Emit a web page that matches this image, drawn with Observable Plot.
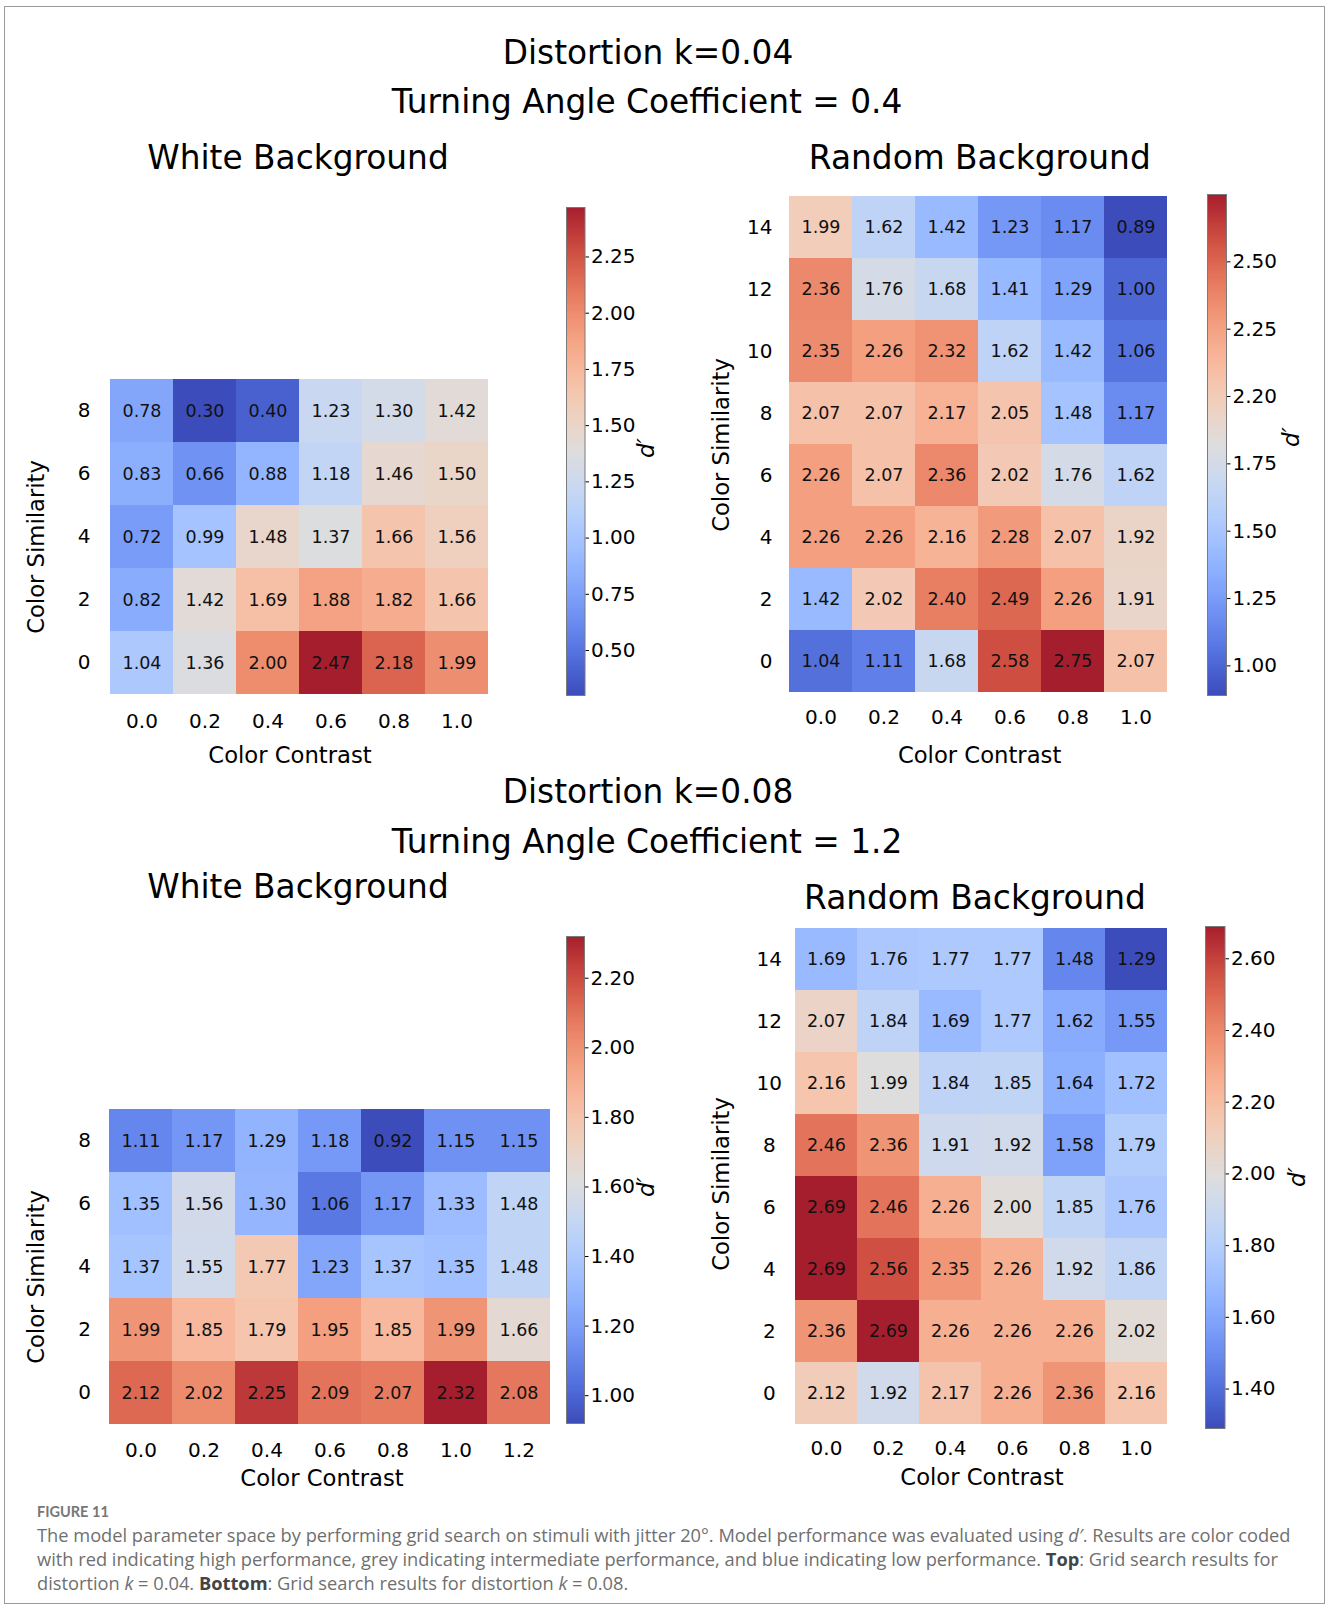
<!DOCTYPE html>
<html><head><meta charset="utf-8">
<script src="https://cdn.jsdelivr.net/npm/d3@7"></script>
<script src="https://cdn.jsdelivr.net/npm/@observablehq/plot@0.6"></script>
<style>
html,body{margin:0;padding:0;background:#fff;}
#fig{position:relative;width:1328px;height:1609px;overflow:hidden;font-family:"DejaVu Sans",sans-serif;color:#000;background:#fff;}
.t{position:absolute;white-space:nowrap;transform:translate(-50%,-50%);line-height:normal;}
.title{font-size:32.8px;}
.lab{font-size:22.7px;}
.rot{transform:translate(-50%,-50%) rotate(-90deg);}
.dp{font-size:23px;font-style:italic;}
#border{position:absolute;left:4px;top:6px;width:1321px;height:1598px;border:1.5px solid #9a9a9a;box-sizing:border-box;}
.cap{position:absolute;left:37px;font-family:"Open Sans",Lato,sans-serif;color:#6f6f6f;white-space:nowrap;font-size:18.25px;line-height:24px;}
.caphead{position:absolute;left:37px;top:1503px;font-family:Lato,sans-serif;font-weight:700;color:#777;font-size:14.5px;line-height:18px;}
.cap b{color:#444;font-weight:700;}
</style></head>
<body><div id="fig"><div id="border"></div></div>
<script>
// ---------------- data ----------------
const contrast6 = ["0.0","0.2","0.4","0.6","0.8","1.0"];
const contrast7 = ["0.0","0.2","0.4","0.6","0.8","1.0","1.2"];
const simWhite = [8,6,4,2,0];
const simRandom = [14,12,10,8,6,4,2,0];

// rows from top (highest similarity) to bottom
const whiteK004 = [
  [0.78,0.30,0.40,1.23,1.30,1.42],
  [0.83,0.66,0.88,1.18,1.46,1.50],
  [0.72,0.99,1.48,1.37,1.66,1.56],
  [0.82,1.42,1.69,1.88,1.82,1.66],
  [1.04,1.36,2.00,2.47,2.18,1.99]
];
const randomK004 = [
  [1.99,1.62,1.42,1.23,1.17,0.89],
  [2.36,1.76,1.68,1.41,1.29,1.00],
  [2.35,2.26,2.32,1.62,1.42,1.06],
  [2.07,2.07,2.17,2.05,1.48,1.17],
  [2.26,2.07,2.36,2.02,1.76,1.62],
  [2.26,2.26,2.16,2.28,2.07,1.92],
  [1.42,2.02,2.40,2.49,2.26,1.91],
  [1.04,1.11,1.68,2.58,2.75,2.07]
];
const whiteK008 = [
  [1.11,1.17,1.29,1.18,0.92,1.15,1.15],
  [1.35,1.56,1.30,1.06,1.17,1.33,1.48],
  [1.37,1.55,1.77,1.23,1.37,1.35,1.48],
  [1.99,1.85,1.79,1.95,1.85,1.99,1.66],
  [2.12,2.02,2.25,2.09,2.07,2.32,2.08]
];
const randomK008 = [
  [1.69,1.76,1.77,1.77,1.48,1.29],
  [2.07,1.84,1.69,1.77,1.62,1.55],
  [2.16,1.99,1.84,1.85,1.64,1.72],
  [2.46,2.36,1.91,1.92,1.58,1.79],
  [2.69,2.46,2.26,2.00,1.85,1.76],
  [2.69,2.56,2.35,2.26,1.92,1.86],
  [2.36,2.69,2.26,2.26,2.26,2.02],
  [2.12,1.92,2.17,2.26,2.36,2.16]
];

const cbTicksWhite004 = [0.50,0.75,1.00,1.25,1.50,1.75,2.00,2.25];
const cbLabelsWhite004 = ["0.50","0.75","1.00","1.25","1.50","1.75","2.00","2.25"];
const cbTicksRandom004 = [1.00,1.25,1.50,1.75,2.00,2.25,2.50];
const cbLabelsRandom004 = ["1.00","1.25","1.50","1.75","2.20","2.25","2.50"];
const cbTicksWhite008 = [1.00,1.20,1.40,1.60,1.80,2.00,2.20];
const cbLabelsWhite008 = ["1.00","1.20","1.40","1.60","1.80","2.00","2.20"];
const cbTicksRandom008 = [1.40,1.60,1.80,2.00,2.20,2.40,2.60];
const cbLabelsRandom008 = ["1.40","1.60","1.80","2.00","2.20","2.40","2.60"];

// ---------------- coolwarm-like colormap ----------------
const coolwarmStops = [
 [60,76,186],[68,90,200],[77,104,213],[87,117,224],[98,130,234],[108,142,241],[119,154,247],[130,165,251],
 [141,176,254],[152,185,255],[163,194,255],[174,201,253],[184,208,249],[194,213,244],[204,217,238],[213,219,230],
 [221,221,221],[229,216,209],[236,211,197],[241,204,185],[245,196,173],[247,187,160],[247,177,148],[245,166,135],
 [242,154,123],[238,141,111],[232,127,99],[225,112,88],[217,96,77],[207,80,67],[195,64,60],[181,46,52],[165,30,45]
];
const coolwarm = d3.piecewise(d3.interpolateRgb, coolwarmStops.map(c => `rgb(${c[0]},${c[1]},${c[2]})`));

const fig = document.getElementById("fig");
const baseStyle = {background:"transparent", fontFamily:"DejaVu Sans, sans-serif", fontSize:"20px", color:"#000", overflow:"visible"};

function place(node, left, top) {
  node.style.position = "absolute";
  node.style.left = left + "px";
  node.style.top = top + "px";
  node.style.maxWidth = "none";
  fig.appendChild(node);
}

function heatmap(xs, ys, values, frame, xPad, yPad, yAnchor) {
  const data = ys.flatMap((y, i) => xs.map((x, j) => ({x, y, v: values[i][j]})));
  const mL = 80, mR = 6, mT = 6, mB = 45;
  const w = frame[2] - frame[0], h = frame[3] - frame[1];
  const svg = Plot.plot({
    width: w + mL + mR, height: h + mT + mB,
    marginLeft: mL, marginRight: mR, marginTop: mT, marginBottom: mB,
    style: baseStyle,
    x: {type: "band", domain: xs, padding: 0, label: null},
    y: {type: "band", domain: ys, padding: 0, label: null},
    color: {type: "linear", domain: d3.extent(data, d => d.v), interpolate: coolwarm},
    marks: [
      Plot.cell(data, {x: "x", y: "y", fill: "v", inset: 0, shapeRendering: "crispEdges"}),
      Plot.text(data, {x: "x", y: "y", text: d => d.v.toFixed(2), fill: "#111", fontSize: 17.5}),
      Plot.axisX({anchor: "bottom", tickSize: 0, tickPadding: xPad, label: null}),
      Plot.axisY({anchor: "left", tickSize: 0, tickPadding: yPad, label: null, textAnchor: yAnchor || "end"})
    ]
  });
  place(svg, frame[0] - mL, frame[1] - mT);
  return d3.extent(data, d => d.v);
}

function colorbar(domain, ticks, labels, frame) {
  const N = 240;
  const slices = d3.range(N).map(i => [domain[0] + (domain[1] - domain[0]) * i / N, domain[0] + (domain[1] - domain[0]) * (i + 1) / N]);
  const mL = 2, mR = 70, mT = 14, mB = 14;
  const w = frame[2] - frame[0], h = frame[3] - frame[1];
  const svg = Plot.plot({
    width: w + mL + mR, height: h + mT + mB,
    marginLeft: mL, marginRight: mR, marginTop: mT, marginBottom: mB,
    style: baseStyle,
    x: {domain: [0, 1], axis: null},
    y: {domain, axis: null},
    color: {type: "linear", domain, interpolate: coolwarm},
    marks: [
      Plot.rect(slices, {x1: 0, x2: 1, y1: d => d[0], y2: d => d[1], fill: d => (d[0] + d[1]) / 2, shapeRendering: "crispEdges"}),
      Plot.frame({stroke: "#7a7a7a", strokeWidth: 1}),
      Plot.axisY(ticks, {anchor: "right", tickSize: 3.5, tickPadding: 2.5, label: null, tickFormat: d => labels[ticks.indexOf(d)]})
    ]
  });
  place(svg, frame[0] - mL, frame[1] - mT);
}

function txt(str, x, y, cls, html) {
  const d = document.createElement("div");
  d.className = "t " + cls;
  if (html) d.innerHTML = str; else d.textContent = str;
  d.style.left = x + "px";
  d.style.top = y + "px";
  fig.appendChild(d);
}

// ---------------- panels ----------------
const e1 = heatmap(contrast6, simWhite, whiteK004, [107.5, 377, 488.5, 695], 17.8, 18);
colorbar(e1, cbTicksWhite004, cbLabelsWhite004, [566, 206.5, 584.5, 694.5]);

const e2 = heatmap(contrast6, simRandom, randomK004, [789, 193, 1167, 695], 14.6, 17);
colorbar(e2, cbTicksRandom004, cbLabelsRandom004, [1207, 194, 1226, 695]);

const e3 = heatmap(contrast7, simWhite, whiteK008, [107, 1106.5, 552, 1424.5], 17.5, 16.4);
colorbar(e3, cbTicksWhite008, cbLabelsWhite008, [566, 936, 584, 1423]);

const e4 = heatmap(contrast6, simRandom, randomK008, [792, 924, 1169, 1427.5], 13, 23.2, "middle");
colorbar(e4, cbTicksRandom008, cbLabelsRandom008, [1205, 926, 1224.5, 1428]);

// ---------------- titles & labels ----------------
txt("Distortion k=0.04", 648, 53, "title");
txt("Turning Angle Coefficient = 0.4", 647, 101.5, "title");
txt("White Background", 298, 158, "title");
txt("Random Background", 979.8, 158, "title");
txt("Distortion k=0.08", 648, 792, "title");
txt("Turning Angle Coefficient = 1.2", 647, 841.5, "title");
txt("White Background", 298, 886.7, "title");
txt("Random Background", 975, 898, "title");

txt("Color Contrast", 290, 755, "lab");
txt("Color Similarity", 35.7, 546.5, "lab rot");
txt("d′", 645.5, 448, "dp rot");

txt("Color Contrast", 979.6, 755, "lab");
txt("Color Similarity", 721.3, 445, "lab rot");
txt("d′", 1291, 436.7, "dp rot");

txt("Color Contrast", 322, 1478, "lab");
txt("Color Similarity", 35.7, 1276.7, "lab rot");
txt("d′", 645.5, 1186.7, "dp rot");

txt("Color Contrast", 982, 1477, "lab");
txt("Color Similarity", 721.3, 1184, "lab rot");
txt("d′", 1296.5, 1176.5, "dp rot");

// ---------------- caption ----------------
const capHead = document.createElement("div");
capHead.className = "caphead";
capHead.textContent = "FIGURE 11";
fig.appendChild(capHead);
const capLines = [
  "The model parameter space by performing grid search on stimuli with jitter 20°. Model performance was evaluated using <i>d′</i>. Results are color coded",
  "with red indicating high performance, grey indicating intermediate performance, and blue indicating low performance. <b>Top</b>: Grid search results for",
  "distortion <i>k</i> = 0.04. <b>Bottom</b>: Grid search results for distortion <i>k</i> = 0.08."
];
capLines.forEach((s, i) => {
  const d = document.createElement("div");
  d.className = "cap";
  d.innerHTML = s;
  d.style.top = (1523 + i * 24) + "px";
  fig.appendChild(d);
});
</script>
</body></html>
